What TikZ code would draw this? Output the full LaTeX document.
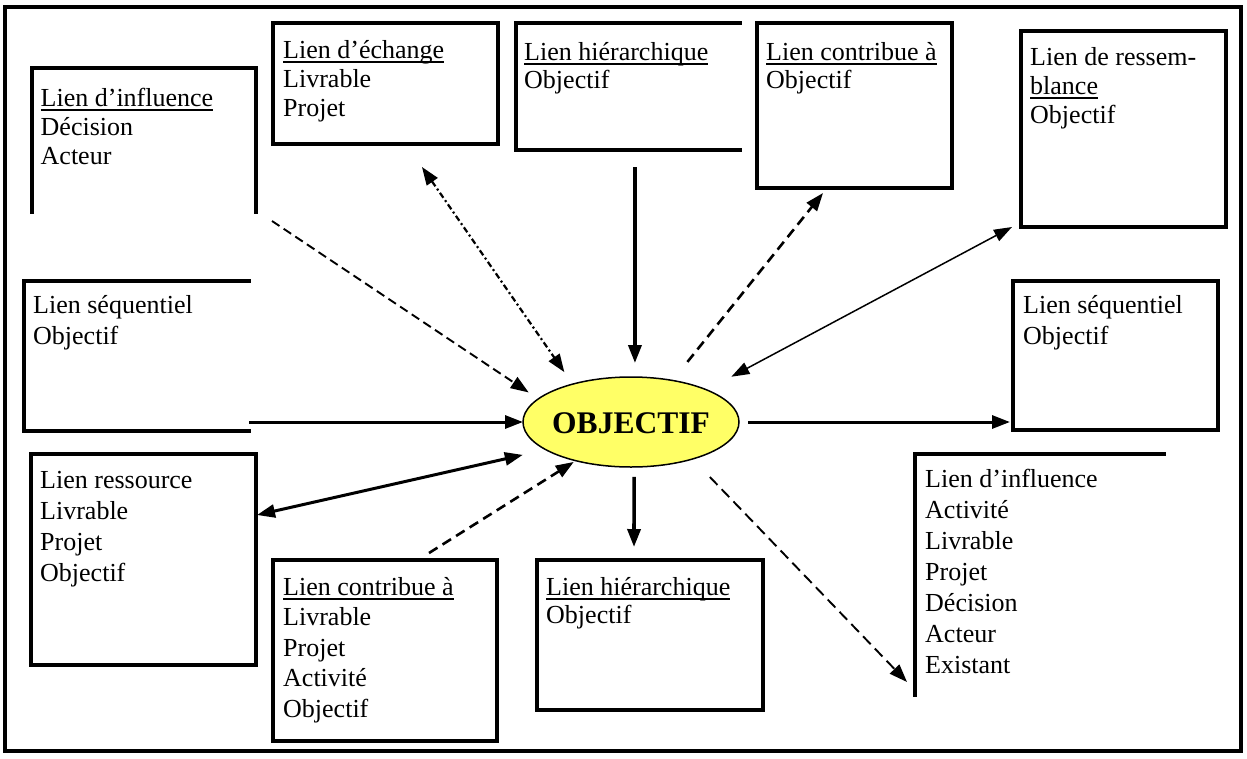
\documentclass[tikz,border=0pt]{standalone}
\usepackage{fontspec}
\setmainfont{Liberation Serif}
\usetikzlibrary{arrows.meta,shapes.geometric}
\newcommand\ulx[1]{\setbox0\hbox{#1}\rlap{\vrule width\wd0 height -3pt depth 5pt}\box0}
\definecolor{objyellow}{RGB}{255,255,102}
\begin{document}
\begin{tikzpicture}[x=1pt,y=-1pt,
  boxshape/.style={rectangle, inner sep=0pt, outer sep=0pt, anchor=north west},
  fullbox/.style={boxshape, draw, line width=3.2pt},
  edge/.style={line width=3.2pt, line cap=rect},
  txt/.style={anchor=base west, align=left, inner sep=0pt, font=\fontsize{26}{#1}\selectfont},
  solidarr/.style={line width=3pt, -{Triangle[length=18pt,width=13pt]}},
  dashA/.style={line width=1.9pt, dash pattern=on 9pt off 5pt, -{Triangle[length=18pt,width=13pt]}},
  dashdotA/.style={line width=2.2pt, dash pattern=on 6pt off 3pt on 2pt off 3pt},
  dashB/.style={line width=2.6pt, dash pattern=on 10pt off 6pt, -{Triangle[length=18pt,width=13pt]}},
  dashC/.style={line width=1.9pt, dash pattern=on 11pt off 6pt, -{Triangle[length=18pt,width=13pt]}}
]
\useasboundingbox (0,0) rectangle (1247,758);

% outer frame
\node[boxshape, draw, line width=3.4pt, minimum width=1236pt, minimum height=744pt] (frame) at (5,7) {};

% boxes
\node[boxshape, minimum width=224pt, minimum height=144pt] (infTL) at (32,68) {};
\draw[edge] (infTL.south west) -- (infTL.north west) -- (infTL.north east) -- (infTL.south east);
\node[fullbox, minimum width=225pt, minimum height=121pt] (ech) at (273,23) {};
\node[boxshape, minimum width=224pt, minimum height=127pt] (hierT) at (516,23) {};
\draw[edge] (hierT.north east) -- (hierT.north west) -- (hierT.south west) -- (hierT.south east);
\node[fullbox, minimum width=195pt, minimum height=165pt] (contT) at (757,23) {};
\node[fullbox, minimum width=205pt, minimum height=196pt] (ress) at (1021,31) {};
\node[boxshape, minimum width=225pt, minimum height=150pt] (seqL) at (24,281) {};
\draw[edge] (seqL.north east) -- (seqL.north west) -- (seqL.south west) -- (seqL.south east);
\node[fullbox, minimum width=205pt, minimum height=149pt] (seqR) at (1013,281) {};
\node[fullbox, minimum width=225pt, minimum height=211pt] (rsrc) at (31,454) {};
\node[fullbox, minimum width=224pt, minimum height=181pt] (contB) at (273,560) {};
\node[fullbox, minimum width=226pt, minimum height=150pt] (hierB) at (537,560) {};
\node[boxshape, minimum width=249pt, minimum height=241pt] (infBR) at (915,454) {};
\draw[edge] (infBR.south west) -- (infBR.north west) -- (infBR.north east);

% texts (base anchor = baseline of the last line)
\node[txt=29, xshift=8.5pt, yshift=-96pt] (tinfTL) at (infTL.north west) {\ulx{Lien d’influence}\\Décision\\Acteur};
\node[txt=29, xshift=10pt, yshift=-93pt] (tech) at (ech.north west) {\ulx{Lien d’échange}\\Livrable\\Projet};
\node[txt=28, xshift=8pt, yshift=-65pt] (thierT) at (hierT.north west) {\ulx{Lien hiérarchique}\\Objectif};
\node[txt=28, xshift=9pt, yshift=-65pt] (tcontT) at (contT.north west) {\ulx{Lien contribue à}\\Objectif};
\node[txt=29, xshift=9pt, yshift=-92pt] (tress) at (ress.north west) {Lien de ressem-\\\ulx{blance}\\Objectif};
\node[txt=31, xshift=9pt, yshift=-63pt] (tseqL) at (seqL.north west) {Lien séquentiel\\Objectif};
\node[txt=31, xshift=10pt, yshift=-63pt] (tseqR) at (seqR.north west) {Lien séquentiel\\Objectif};
\node[txt=31, xshift=9pt, yshift=-127pt] (trsrc) at (rsrc.north west) {Lien ressource\\Livrable\\Projet\\Objectif};
\node[txt=30.5, xshift=10pt, yshift=-157pt] (tcontB) at (contB.north west) {\ulx{Lien contribue à}\\Livrable\\Projet\\Activité\\Objectif};
\node[txt=28, xshift=9pt, yshift=-63pt] (thierB) at (hierB.north west) {\ulx{Lien hiérarchique}\\Objectif};
\node[txt=31, xshift=10pt, yshift=-219pt] (tinfBR) at (infBR.north west) {Lien d’influence\\Activité\\Livrable\\Projet\\Décision\\Acteur\\Existant};

% central ellipse
\node[ellipse, draw, line width=1.5pt, fill=objyellow, minimum width=216pt, minimum height=90pt, inner sep=0pt, outer sep=0pt] (obj) at (631,422) {};
\node[anchor=base, inner sep=0pt, font=\fontsize{31.5}{34}\selectfont\bfseries, yshift=-11pt] (objt) at (obj.center) {OBJECTIF};

% connector free ends
\coordinate (c1) at (272,221);
\coordinate (c2) at (422,167);
\coordinate (c3) at (635,167);
\coordinate (c4) at (823,193);
\coordinate (c5) at (1012,227);
\coordinate (c6) at (249,422);
\coordinate (c7) at (1010,422);
\coordinate (c8) at (257,515);
\coordinate (c9) at (429,553);
\coordinate (c10) at (634,547);
\coordinate (c11) at (907,682);

% connectors
\draw[dashA, shorten >=11.6pt] (c1) -- (obj.166);
\draw[dashdotA, {Triangle[length=18pt,width=13pt]}-{Triangle[length=18pt,width=13pt]}, shorten >=14.6pt] (c2) -- (obj.147);
\draw[line width=3.6pt, -{Triangle[length=18pt,width=13pt]}, shorten >=14pt] (c3) -- (obj.85);
\draw[dashB, shorten <=23.8pt] (obj.45) -- (c4);
\draw[line width=1.5pt, {Triangle[length=18pt,width=12.5pt]}-{Triangle[length=18pt,width=12.5pt]}, shorten >=28pt] (c5) -- (obj.23);
\draw[solidarr] (c6) -- (obj.west);
\draw[solidarr, shorten <=9pt] (obj.east) -- (c7);
\draw[line width=3pt, {Triangle[length=18pt,width=13pt]}-{Triangle[length=18pt,width=13pt]}, shorten >=23.6pt] (c8) -- (obj.198);
\draw[dashB, shorten >=2.4pt] (c9) -- (obj.215);
\draw[line width=3.6pt, -{Triangle[length=18pt,width=13pt]}, shorten <=10pt] (obj.274) -- (c10);
\draw[dashC, shorten <=25pt] (obj.329) -- (c11);
\end{tikzpicture}
\end{document}
